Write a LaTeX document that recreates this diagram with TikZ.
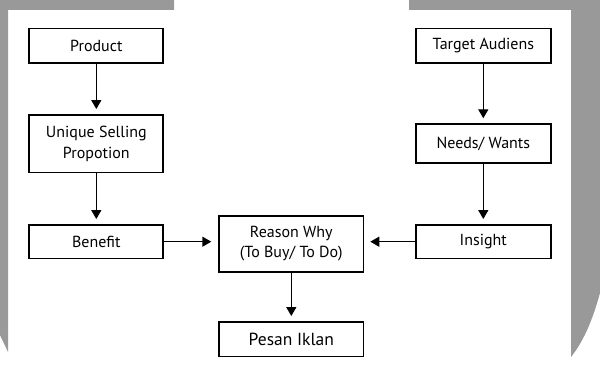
\documentclass[tikz,border=0pt]{standalone}
\usepackage{fontspec}
\setmainfont{PT Sans}
\usepackage{xcolor}
\usepackage{tikz}
\usetikzlibrary{arrows.meta, positioning}
\definecolor{bggrey}{RGB}{153,153,153}

\begin{document}
\begin{tikzpicture}[x=1pt, y=-1pt,
    box/.style={draw, line width=1.8pt, align=center, minimum width=134pt, inner sep=2pt, font=\fontsize{16}{20.5}\selectfont},
    arr/.style={line width=1.4pt, -{Triangle[length=9pt, width=10pt]}, shorten >=5pt}]
        \useasboundingbox (0,0) rectangle (600,371);
        
        % grey background
        \fill[bggrey] (0,0) -- (174,0) -- (174,10) -- (8,10) -- (8,352) .. controls (5,345) and (2,340) .. (0,335) -- cycle;
        \fill[bggrey] (409,0) -- (600,0) -- (600,293) .. controls (592,322) and (583,342) .. (571,357) -- (571,10) -- (409,10) -- cycle;
        
        % left column
        \node[box, minimum height=34.7pt] (product) at (96.3,45.8) {Product};
        \node[box, minimum height=57.5pt] (usp) at (96.3,143.7) {Unique Selling\\Propotion};
        \node[box, minimum height=33.5pt] (benefit) at (96.3,241.7) {Benefit};
        
        % right column
        \node[box, minimum width=135pt, minimum height=34.7pt] (target) at (483.3,45.8) {Target Audiens};
        \node[box, minimum width=135pt, minimum height=39.2pt] (needs) at (483.3,143.8) {Needs/ Wants};
        \node[box, minimum width=135pt, minimum height=33.5pt] (insight) at (483.3,241.7) {Insight};
        
        % middle
        \node[box, minimum width=144.2pt, minimum height=55.7pt] (reason) at (291.3,243.8) {Reason Why\\(To Buy/ To Do)};
        \node[box, minimum width=144.2pt, minimum height=34.5pt, font=\fontsize{17.5}{20}\selectfont] (pesan) at (291.3,339.2) {Pesan Iklan};
        
        \draw[arr] (product) -- (usp);
        \draw[arr] (usp) -- (benefit);
        \draw[arr] (target) -- (needs);
        \draw[arr] (needs) -- (insight);
        \draw[arr, shorten >=7pt] (benefit.east) -- (benefit.east -| reason.west);
        \draw[arr, shorten >=6pt] (insight.west) -- (insight.west -| reason.east);
        \draw[arr] (reason) -- (pesan);
        
    \end{tikzpicture}
\end{document}
